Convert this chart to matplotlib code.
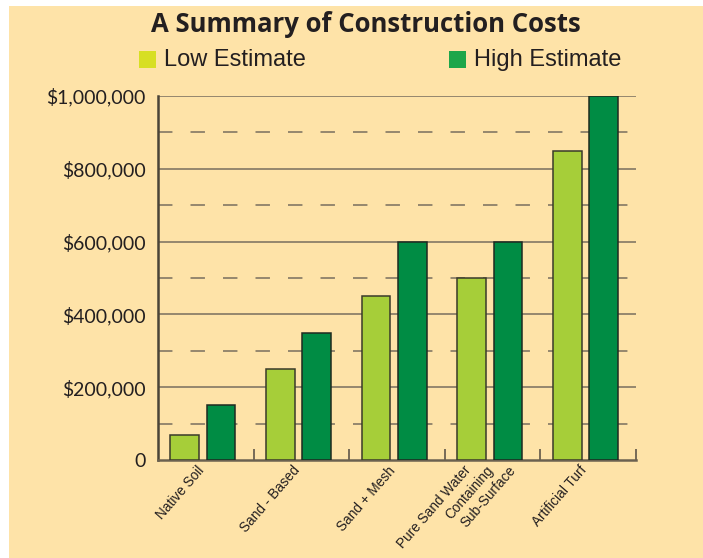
import matplotlib
matplotlib.use("Agg")
import matplotlib.pyplot as plt
from matplotlib.patches import Rectangle
import numpy as np

BG = "#FEE3A8"
LOW_C, HIGH_C = "#A6CE39", "#008C44"
LEG_LOW, LEG_HIGH = "#D7DF23", "#1DA64A"
GRID = "#8C8069"
INK = "#231F20"

categories = ["Native Soil", "Sand - Based", "Sand + Mesh",
              "Pure Sand Water\nContaining\nSub-Surface", "Artificial Turf"]
low_est = [70000, 250000, 450000, 500000, 850000]
high_est = [150000, 350000, 600000, 600000, 1000000]
yticks = [0, 200000, 400000, 600000, 800000, 1000000]
ytick_labels = ["0", "$200,000", "$400,000", "$600,000", "$800,000", "$1,000,000"]
dashed_levels = [100000, 300000, 500000, 700000, 900000]

W, H = 703, 558
fig = plt.figure(figsize=(W / 100, H / 100), dpi=100, facecolor="white")
fig.patches.append(Rectangle((9 / W, 0), 1, 1 - 6 / H, transform=fig.transFigure,
                             facecolor=BG, edgecolor="none", zorder=-10))

ax = fig.add_axes([158 / W, (H - 460) / H, (636 - 158) / W, (460 - 96) / H])
ax.set_facecolor("none")
ax.set_xlim(0, 5)
ax.set_ylim(0, 1000000)

x = np.arange(len(categories))
bw = 0.30
ax.bar(x + 0.13, low_est, width=bw, align="edge", color=LOW_C,
       edgecolor="#3a3a2a", lw=1.1, zorder=3)
ax.bar(x + 0.51, high_est, width=bw, align="edge", color=HIGH_C,
       edgecolor="#1f2a20", lw=1.1, zorder=3)

for v in yticks[1:]:
    ax.axhline(v, color=GRID, lw=1.3, zorder=1)
for v in dashed_levels:
    ax.axhline(v, color=GRID, lw=1.3, ls=(0, (8, 10)), zorder=1)

ax.set_yticks(yticks)
ax.set_yticklabels(ytick_labels, fontfamily="Lato", fontsize=14, color=INK)
ax.tick_params(axis="y", length=0, pad=9)

ax.set_xticks(np.arange(1, 6))
ax.set_xticklabels([])
ax.tick_params(axis="x", direction="in", length=8, width=1.3, color="#6b6150")
for i, lab in enumerate(categories):
    lines = lab.split("\n")
    # stacked labels: every line ends on the same height, stepped to the right
    start = 0.5 - 0.235 * (len(lines) - 1) / 2 - (0.02 if len(lines) > 1 else 0.04)
    for j, line in enumerate(lines):
        ax.text(i + start + 0.235 * j, -22000, line,
                rotation=49, rotation_mode="anchor", ha="right", va="center",
                fontsize=9.8, fontfamily="Liberation Sans", color=INK)

for sp in ("top", "right"):
    ax.spines[sp].set_visible(False)
ax.spines["left"].set_color("#4a4438")
ax.spines["left"].set_linewidth(1.8)
ax.spines["bottom"].set_color("#6b6150")
ax.spines["bottom"].set_linewidth(1.8)

fig.text(366 / W, 1 - 25 / H, "A Summary of Construction Costs", ha="center",
         va="center", fontsize=18.5, fontweight="bold", fontfamily="Open Sans", color=INK)

fig.patches.append(Rectangle((139 / W, 1 - 68 / H), 17 / W, 17 / H, transform=fig.transFigure,
                             facecolor=LEG_LOW, edgecolor="none"))
fig.text(164 / W, 1 - 60 / H, "Low Estimate", ha="left", va="center",
         fontsize=17, fontfamily="Liberation Sans", color=INK)
fig.patches.append(Rectangle((449 / W, 1 - 68 / H), 17 / W, 17 / H, transform=fig.transFigure,
                             facecolor=LEG_HIGH, edgecolor="none"))
fig.text(474 / W, 1 - 60 / H, "High Estimate", ha="left", va="center",
         fontsize=17, fontfamily="Liberation Sans", color=INK)

fig.savefig("out.png", dpi=100, facecolor="white")
